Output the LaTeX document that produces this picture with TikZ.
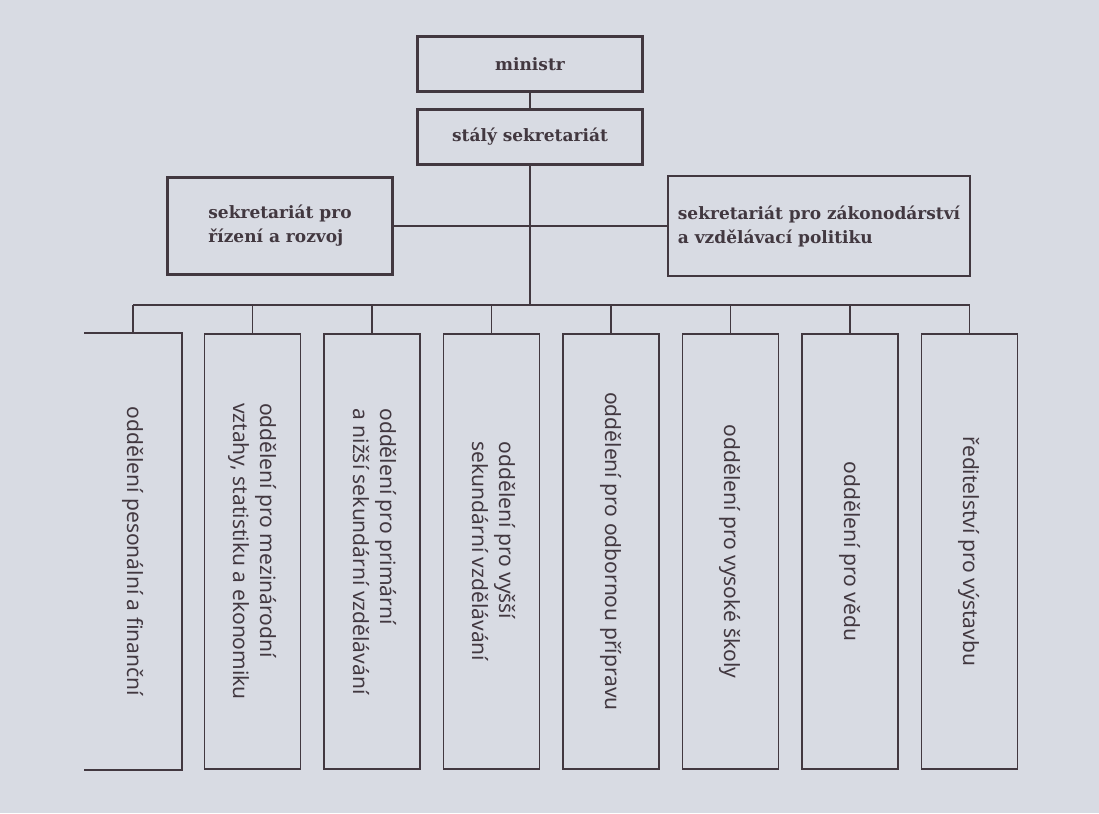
\documentclass[tikz,border=0pt]{standalone}
\usepackage{fontspec}
\setmainfont{DejaVu Serif}
\newfontfamily\deptfont{Noto Sans}
\usetikzlibrary{positioning}
\definecolor{paper}{RGB}{216,219,227}
\definecolor{ink}{RGB}{66,56,64}

\begin{document}
\begin{tikzpicture}[x=1pt, y=-1pt, node distance = 119.5pt and 119.5pt, on grid, color=ink, line width=1.9pt,
	office/.style ={rectangle, draw, line width=2.4pt, text=ink, inner sep=2pt, font=\bfseries\fontsize{17}{24}\selectfont},
	dept/.style ={rectangle, draw, line width=1.6pt, text=ink, inner sep=0pt, minimum width=96pt, minimum height=435pt, font=\deptfont\fontsize{21}{27}\selectfont}]
	\path[use as bounding box, fill=paper] (0,0) rectangle (1099,813);

	\node[office, minimum width=225pt, minimum height=55pt] (min) at (530,64) {ministr};
	\node[office, minimum width=225pt, minimum height=55pt] (sek) [below = 73pt of min] {stálý sekretariát};
	\node[office, minimum width=225pt, minimum height=97pt, align=left] (rid) at (280,226) {sekretariát pro\\řízení a rozvoj};
	\node[office, minimum width=302pt, minimum height=100pt, align=left] (zak) at (819,226) {sekretariát pro zákonodárství\\a vzdělávací politiku};
	\coordinate (bus) at (530,305);

	\node[dept, draw=none] (d1) at (133,551.5) {\rotatebox{-90}{oddělení pesonální a finanční}};
	\node[dept] (d2) [right = of d1] {\rotatebox{-90}{\begin{tabular}{@{}l@{}}oddělení pro mezinárodní\\vztahy, statistiku a ekonomiku\end{tabular}}};
	\node[dept] (d3) [right = of d2] {\rotatebox{-90}{\begin{tabular}{@{}l@{}}oddělení pro primární\\a nižší sekundární vzdělávání\end{tabular}}};
	\node[dept] (d4) [right = of d3] {\rotatebox{-90}{\begin{tabular}{@{}l@{}}oddělení pro vyšší\\sekundární vzdělávání\end{tabular}}};
	\node[dept] (d5) [right = of d4] {\rotatebox{-90}{oddělení pro odbornou přípravu}};
	\node[dept] (d6) [right = of d5] {\rotatebox{-90}{oddělení pro vysoké školy}};
	\node[dept] (d7) [right = of d6] {\rotatebox{-90}{oddělení pro vědu}};
	\node[dept] (d8) [right = of d7] {\rotatebox{-90}{ředitelství pro výstavbu}};
	% first box is open on the left
	\draw[line width=1.6pt] (d1.north west) -- (d1.north east) -- (d1.south east) -- (d1.south west);

	\draw (min) -- (sek);
	\draw (sek) -- (bus);
	\draw (rid) -- (zak);
	\draw (bus -| d1.north) -- (bus -| d8.north);
	\foreach \i in {1,...,8}
		\draw (bus -| d\i.north) -- (d\i.north);
\end{tikzpicture}
\end{document}
